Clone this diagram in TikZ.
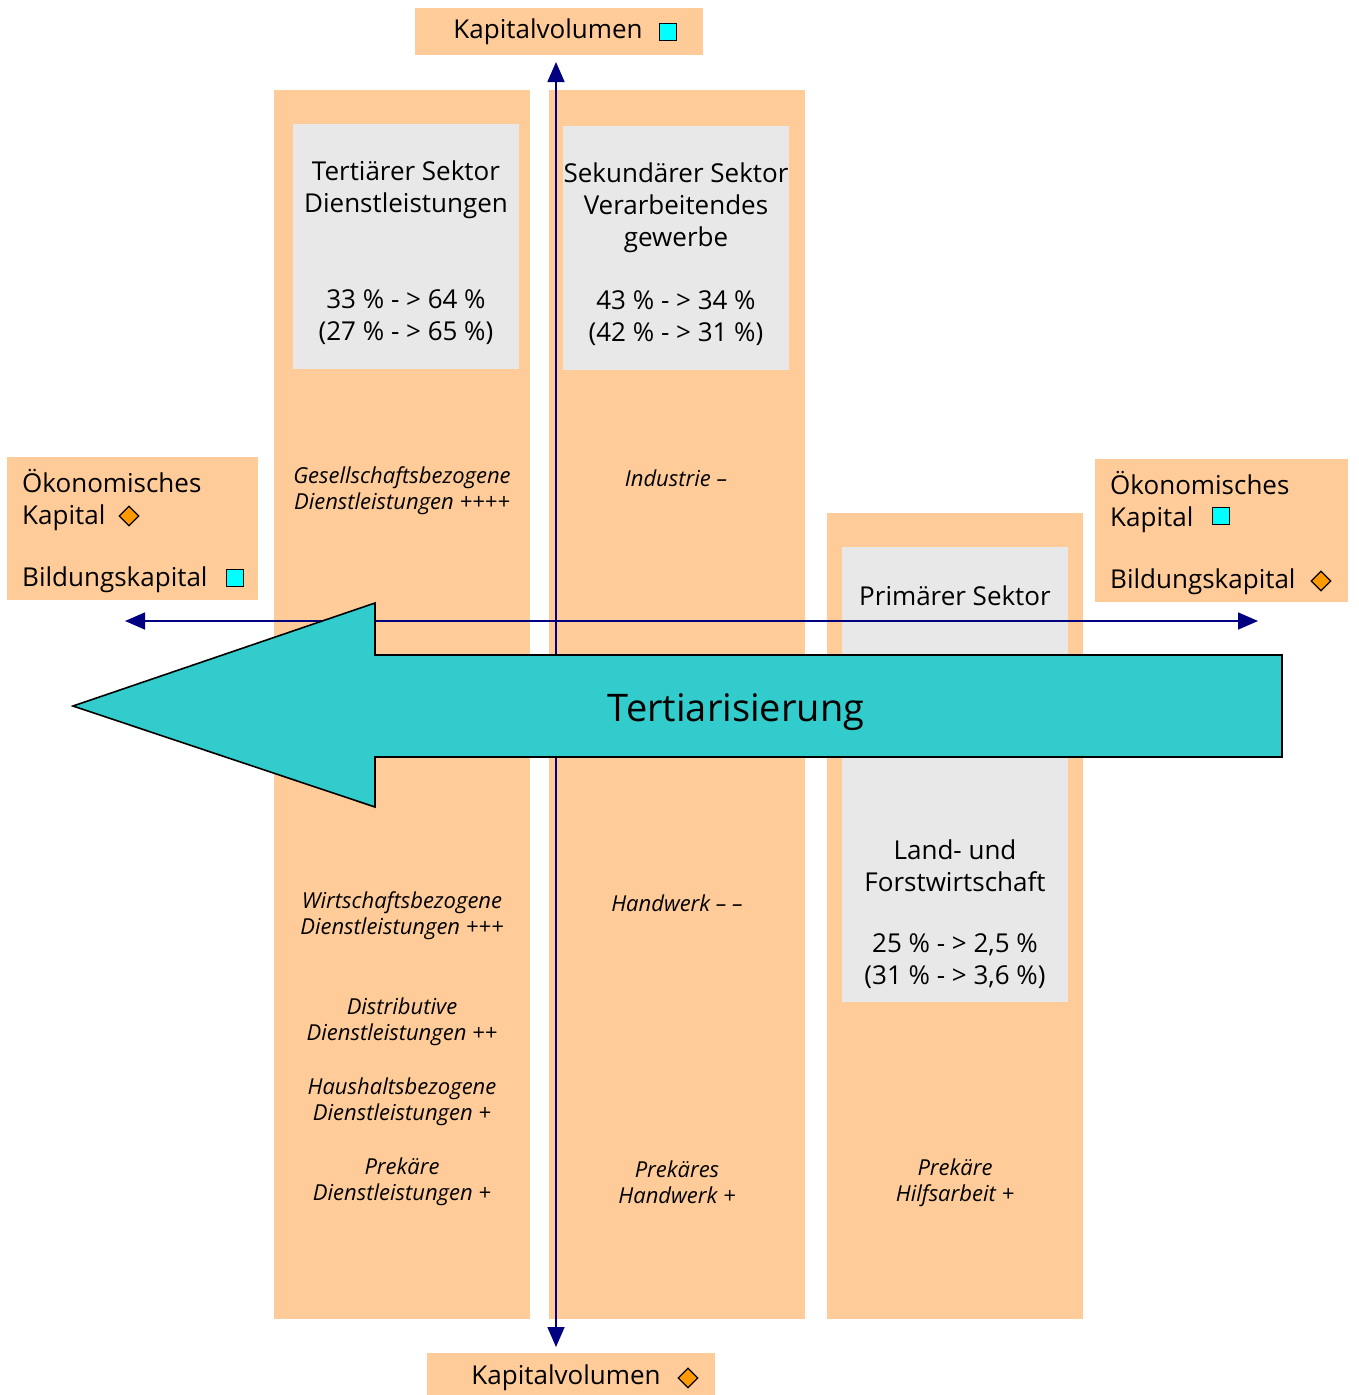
\documentclass[tikz,border=0pt]{standalone}
\usepackage{fontspec}
\setmainfont{Open Sans}
\usetikzlibrary{arrows.meta,shapes.geometric}
\definecolor{pfirsich}{HTML}{FFCC99}
\definecolor{hellgrau}{HTML}{E8E8E8}
\definecolor{tuerkis}{HTML}{33CCCC}
\definecolor{achsblau}{HTML}{000080}
\definecolor{quadratcyan}{HTML}{00FFFF}
\definecolor{rautenorange}{HTML}{FF9900}
\begin{document}
\begin{tikzpicture}[
		x=1pt, y=-1pt,
		% Grundflaechen und Schriften
		saeule/.style={fill=pfirsich},
		grauflaeche/.style={fill=hellgrau},
		gross/.style={font=\fontsize{26}{32}\selectfont, align=center, inner sep=0pt},
		links/.style={font=\fontsize{26}{32}\selectfont, align=left, anchor=west, inner sep=0pt},
		kursiv/.style={font=\fontsize{22}{26}\selectfont\itshape, align=center, inner sep=0pt},
		quadrat/.style={draw=black, line width=1.2pt, fill=quadratcyan, minimum size=17pt, inner sep=0pt},
		raute/.style={diamond, draw=black, line width=1.2pt, fill=rautenorange, minimum size=20pt, inner sep=0pt},
		achse/.style={draw=achsblau, line width=1.6pt, {Triangle[length=20pt,width=17pt]}-{Triangle[length=20pt,width=17pt]}},
		pfeil/.style={fill=tuerkis, draw=black, line width=1.6pt, line join=miter},
		]
		\useasboundingbox (0,0) rectangle (1359,1395);

		% Kapitalvolumen oben und unten
		\fill[saeule] (415,8) rectangle (703,55);
		\node[gross] (kvoben) at (548,32) {Kapitalvolumen};
		\node[quadrat] (kvobenmk) at (668,32) {};
		\fill[saeule] (427,1353) rectangle (715,1395);
		\node[gross] (kvunten) at (566,1378) {Kapitalvolumen};
		\node[raute] (kvuntenmk) at (688,1378) {};

		% seitliche Kaesten
		\fill[saeule] (7,457) rectangle (258,600);
		\node[links] (lkap) at (22,500) {Ökonomisches\\Kapital};
		\node[raute] (lkapmk) at (129,516) {};
		\node[links] (lbild) at (22,580) {Bildungskapital};
		\node[quadrat] (lbildmk) at (235,578) {};
		\fill[saeule] (1095,459) rectangle (1348,602);
		\node[links] (rkap) at (1110,502) {Ökonomisches\\Kapital};
		\node[quadrat] (rkapmk) at (1221,516) {};
		\node[links] (rbild) at (1110,582) {Bildungskapital};
		\node[raute] (rbildmk) at (1321,581) {};

		% Saeulen der Sektoren
		\fill[saeule] (274,90) rectangle (530,1319);
		\fill[saeule] (549,90) rectangle (805,1319);
		\fill[saeule] (827,513) rectangle (1083,1319);
		\fill[grauflaeche] (293,124) rectangle (519,369);
		\fill[grauflaeche] (563,126) rectangle (789,370);
		\fill[grauflaeche] (842,547) rectangle (1068,1002);

		\node[gross] (tertiaer) at (406,190) {Tertiärer Sektor\\Dienstleistungen};
		\node[gross] (tertiaerzahl) at (406,317) {33 \% - > 64 \%\\(27 \% - > 65 \%)};
		\node[gross] (sekundaer) at (676,208) {Sekundärer Sektor\\Verarbeitendes\\gewerbe};
		\node[gross] (sekundaerzahl) at (676,318) {43 \% - > 34 \%\\(42 \% - > 31 \%)};
		\node[gross] (primaer) at (955,596) {Primärer Sektor};
		\node[gross] (primaerland) at (955,866) {Land- und\\Forstwirtschaft};
		\node[gross] (primaerzahl) at (955,961) {25 \% - > 2,5 \%\\(31 \% - > 3,6 \%)};

		\node[kursiv] (gesell) at (402,491) {Gesellschaftsbezogene\\Dienstleistungen ++++};
		\node[kursiv] (wirtschaft) at (402,916) {Wirtschaftsbezogene\\Dienstleistungen +++};
		\node[kursiv] (distrib) at (402,1022) {Distributive\\Dienstleistungen ++};
		\node[kursiv] (haushalt) at (402,1102) {Haushaltsbezogene\\Dienstleistungen +};
		\node[kursiv] (prekdienst) at (402,1182) {Prekäre\\Dienstleistungen +};
		\node[kursiv] (industrie) at (676,478) {Industrie –};
		\node[kursiv] (handwerk) at (677,903) {Handwerk – –};
		\node[kursiv] (prekhand) at (677,1182) {Prekäres\\Handwerk +};
		\node[kursiv] (prekhilf) at (955,1183) {Prekäre\\Hilfsarbeit +};

		% Achsen
		\coordinate (achseoben) at (556,62);
		\coordinate (achseunten) at (556,1347);
		\coordinate (achselinks) at (125,621);
		\coordinate (achserechts) at (1258,621);
		\draw[achse] (achseunten) -- (achseoben);
		\draw[achse] (achselinks) -- (achserechts);

		% grosser Pfeil
		\filldraw[pfeil] (73,706) -- (375,603) -- (375,655) -- (1282,655) -- (1282,757)
			-- (375,757) -- (375,807) -- cycle;
		\node[font=\fontsize{38}{44}\selectfont, inner sep=0pt] (tertiarisierung) at (736,712) {Tertiarisierung};
	\end{tikzpicture}
\end{document}
